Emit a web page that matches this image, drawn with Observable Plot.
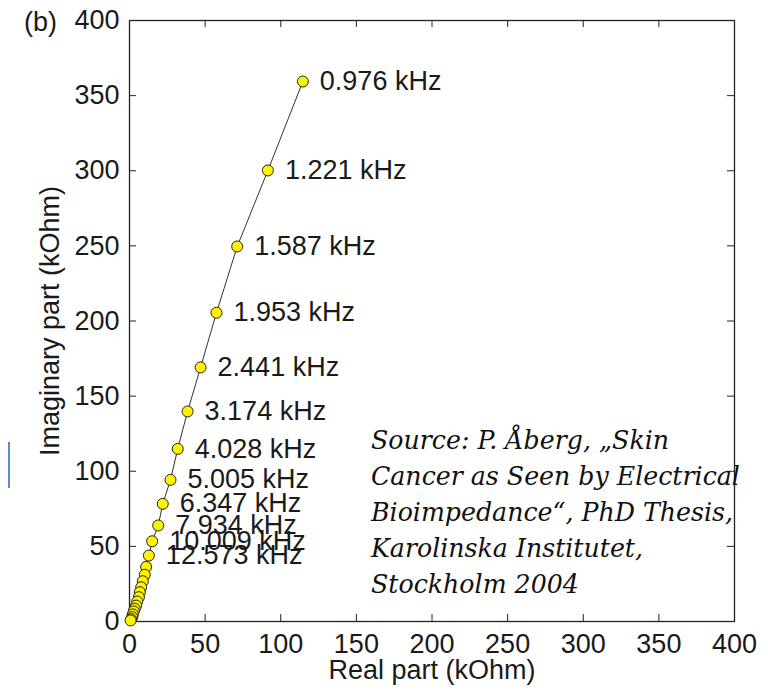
<!DOCTYPE html>
<html><head><meta charset="utf-8">
<script src="https://cdn.jsdelivr.net/npm/d3@7"></script>
<script src="https://cdn.jsdelivr.net/npm/@observablehq/plot@0.6"></script>
<style>
html,body{margin:0;padding:0;background:#fff;}
#wrap{position:relative;width:768px;height:691px;overflow:hidden;background:#fff;}
#chart{position:absolute;left:0;top:0;}
#source{position:absolute;left:371px;top:423px;font-family:"DejaVu Serif",serif;font-style:italic;color:#111;line-height:36px;white-space:pre;}
#mark{position:absolute;left:8px;top:442px;width:2px;height:46px;background:#5a88cc;}
</style></head><body>
<div id="wrap"><div id="chart"></div><div id="source"></div><div id="mark"></div></div>
<script>
// ---- data ----
const freqLabels = ["0.976 kHz","1.221 kHz","1.587 kHz","1.953 kHz","2.441 kHz","3.174 kHz","4.028 kHz","5.005 kHz","6.347 kHz","7.934 kHz","10.009 kHz","12.573 kHz",
  "","","","","","","","","","","","","",""];
const realPart = [114.6, 91.5, 71.2, 57.5, 47.0, 38.4, 31.9, 27.1, 22.0, 19.0, 15.0, 12.8,
  11.0, 10.1, 8.8, 7.7, 6.8, 6.2, 5.1, 4.4, 3.5, 2.8, 2.2, 1.8, 1.1, 0.7];
const imagPart = [359.4, 300.2, 249.6, 205.5, 169.1, 139.8, 114.9, 94.3, 78.3, 63.9, 53.4, 43.9,
  36.3, 31.1, 26.8, 22.8, 19.5, 16.2, 13.3, 10.6, 8.5, 6.7, 4.7, 2.9, 1.5, 0.7];
const xTicks = [0, 50, 100, 150, 200, 250, 300, 350, 400];
const yTicks = [0, 50, 100, 150, 200, 250, 300, 350, 400];
const panelLabel = "(b)";
const xTitle = "Real part (kOhm)";
const yTitle = "Imaginary part (kOhm)";
const sourceLines = ["Source: P. Åberg, „Skin", "Cancer as Seen by Electrical", "Bioimpedance“, PhD Thesis,", "Karolinska Institutet,", "Stockholm 2004"];

const points = realPart.map((re, i) => ({re, im: imagPart[i], label: freqLabels[i]}));

const W = 768, H = 691, mL = 129, mR = 34, mT = 20, mB = 70;
const innerW = W - mL - mR, innerH = H - mT - mB;
const tickLen = 7;
const ink = "#1a1a1a";
const font = '"Liberation Sans", Arial, sans-serif';

const chart = Plot.plot({
  width: W, height: H,
  marginLeft: mL, marginRight: mR, marginTop: mT, marginBottom: mB,
  style: {fontFamily: font, fontSize: "27px", color: ink, background: "white", overflow: "visible"},
  x: {domain: [0, 400], ticks: xTicks},
  y: {domain: [0, 400], ticks: yTicks},
  marks: [
    Plot.frame({stroke: "#222", strokeWidth: 1.3}),
    Plot.tickX(xTicks, {x: d => d, insetTop: innerH - tickLen, stroke: "#222"}),
    Plot.tickX(xTicks, {x: d => d, insetBottom: innerH - tickLen, stroke: "#222"}),
    Plot.tickY(yTicks, {y: d => d, insetRight: innerW - tickLen, stroke: "#222"}),
    Plot.tickY(yTicks, {y: d => d, insetLeft: innerW - tickLen, stroke: "#222"}),
    Plot.axisX(xTicks, {anchor: "bottom", tickSize: 0, tickPadding: 12, label: null, fontSize: 27, fill: ink}),
    Plot.axisY(yTicks, {anchor: "left", tickSize: 0, tickPadding: 10, label: null, fontSize: 27, fill: ink}),
    Plot.line(points, {x: "re", y: "im", stroke: "#333", strokeWidth: 1}),
    Plot.dot(points, {x: "re", y: "im", r: 5.5, fill: "#fff200", stroke: "#222", strokeWidth: 1}),
    Plot.text(points.filter(d => d.label), {x: "re", y: "im", text: "label", dx: 17, textAnchor: "start", fontSize: 27, fill: ink}),
    Plot.text([panelLabel], {frameAnchor: "top-left", dx: -89, dy: 2, text: d => d, fontSize: 27, textAnchor: "middle", lineAnchor: "middle", fill: ink}),
    Plot.text([xTitle], {frameAnchor: "bottom", dy: 49, text: d => d, fontSize: 27, textAnchor: "middle", lineAnchor: "middle", fill: ink}),
    Plot.text([yTitle], {frameAnchor: "left", dx: -79, rotate: -90, text: d => d, fontSize: 27, textAnchor: "middle", lineAnchor: "middle", fill: ink})
  ]
});
document.getElementById("chart").appendChild(chart);

// source note, sized so that its longest line matches the reference width
const src = document.getElementById("source");
const c = document.createElement("canvas").getContext("2d");
c.font = 'italic 27px "DejaVu Serif"';
const w27 = c.measureText(sourceLines[1]).width;
const fs = 27 * 369 / w27;
src.style.fontSize = fs.toFixed(2) + "px";
sourceLines.forEach(t => { const d = document.createElement("div"); d.textContent = t; src.appendChild(d); });
</script>
</body></html>
